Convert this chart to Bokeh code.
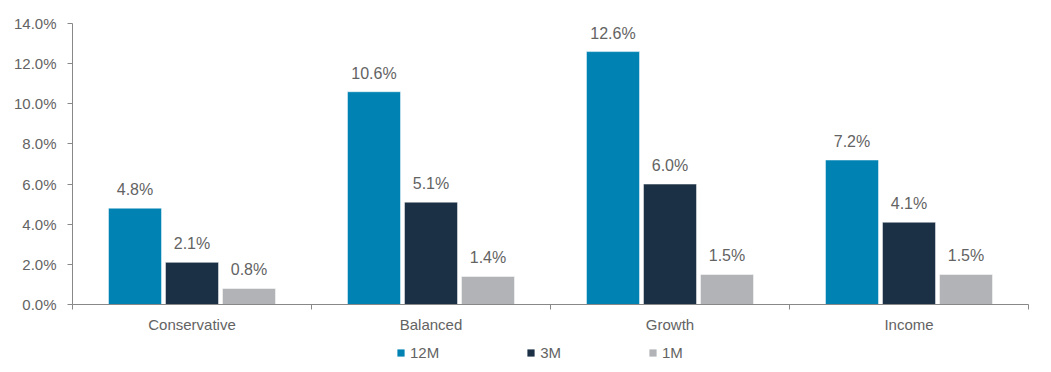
from bokeh.plotting import figure
from bokeh.layouts import column
from bokeh.models import (ColumnDataSource, FixedTicker, NumeralTickFormatter, Range1d,
                          Legend, LegendItem, LinearAxis)
from bokeh.core.properties import value
from bokeh.embed import file_html
from bokeh.resources import INLINE

categories = ["Conservative", "Balanced", "Growth", "Income"]
series_names = ["12M", "3M", "1M"]
values_12m = [4.8, 10.6, 12.6, 7.2]
values_3m = [2.1, 5.1, 6.0, 4.1]
values_1m = [0.8, 1.4, 1.5, 1.5]
colors = ["#0083B3", "#1B3045", "#B1B3B6"]
y_ticks = [0.0, 0.02, 0.04, 0.06, 0.08, 0.10, 0.12, 0.14]

FONT = "Liberation Sans"
TXT = "#636363"
AX = "#888888"

p = figure(frame_width=956, frame_height=281, output_backend="svg", toolbar_location=None,
           x_range=Range1d(0, len(categories)), y_range=Range1d(0, 0.14),
           x_axis_type=None, min_border_left=72, min_border_right=23,
           min_border_top=23, min_border_bottom=35)
p.xgrid.visible = False
p.ygrid.visible = False
p.outline_line_color = None
p.background_fill_color = "white"
p.border_fill_color = "white"

offsets = [-0.2385, 0.0, 0.2385]
bar_w = 0.222
all_vals = [values_12m, values_3m, values_1m]
for k, (name, vals, col) in enumerate(zip(series_names, all_vals, colors)):
    xs = [i + 0.5 + offsets[k] for i in range(len(categories))]
    ys = [v / 100 for v in vals]
    src = ColumnDataSource(dict(x=xs, top=ys, label=[f"{v:.1f}%" for v in vals]))
    p.vbar(x="x", top="top", width=bar_w, source=src, fill_color=col,
           line_color="white", line_width=0.5)
    p.text(x="x", y="top", text="label", source=src, text_align="center",
           text_baseline="bottom", y_offset=-10, text_font=value(FONT),
           text_font_size="16px", text_color=TXT)

# y axis
ya = p.yaxis[0]
ya.ticker = FixedTicker(ticks=y_ticks)
ya.formatter = NumeralTickFormatter(format="0.0%")
ya.axis_line_color = AX
ya.major_tick_line_color = AX
ya.major_tick_out = 5
ya.major_tick_in = 0
ya.minor_tick_line_color = None
ya.major_label_text_font = FONT
ya.major_label_text_font_size = "15px"
ya.major_label_text_color = TXT
ya.major_label_standoff = 11

# x axis with category labels at centres, ticks at boundaries
xa = LinearAxis(ticker=FixedTicker(ticks=[i + 0.5 for i in range(len(categories))],
                                   minor_ticks=list(range(len(categories) + 1))))
xa.major_label_overrides = {i + 0.5: c for i, c in enumerate(categories)}
xa.axis_line_color = AX
xa.major_tick_line_color = None
xa.major_tick_out = 0
xa.major_tick_in = 0
xa.minor_tick_line_color = AX
xa.minor_tick_out = 5
xa.minor_tick_in = 0
xa.axis_label_standoff = 0
xa.major_label_text_font = FONT
xa.major_label_text_font_size = "15px"
xa.major_label_text_color = TXT
xa.major_label_standoff = 6
p.add_layout(xa, "below")

# separate strip holding the legend (series swatches)
lf = figure(width=1051, height=33, output_backend="svg", toolbar_location=None,
            x_range=Range1d(0, 1), y_range=Range1d(0, 1),
            x_axis_type=None, y_axis_type=None, min_border=0)
lf.xgrid.visible = False
lf.ygrid.visible = False
lf.outline_line_color = None
lf.border_fill_color = "white"
items = []
for name, col in zip(series_names, colors):
    # placeholder swatch renderer kept outside the visible range
    r = lf.vbar(x=[-1], top=[0], width=0.1, fill_color=col, line_color=None)
    items.append(LegendItem(label=name, renderers=[r]))
legend = Legend(items=items, orientation="horizontal", location=(324, 11),
                glyph_width=9, glyph_height=9, label_standoff=5, spacing=87,
                label_height=15, label_text_font=FONT, label_text_font_size="15px",
                label_text_color=TXT, border_line_color=None,
                background_fill_alpha=0, padding=0, margin=0)
lf.add_layout(legend, "center")

layout = column(p, lf, spacing=0)
open("out.html", "w").write(file_html(layout, INLINE))
